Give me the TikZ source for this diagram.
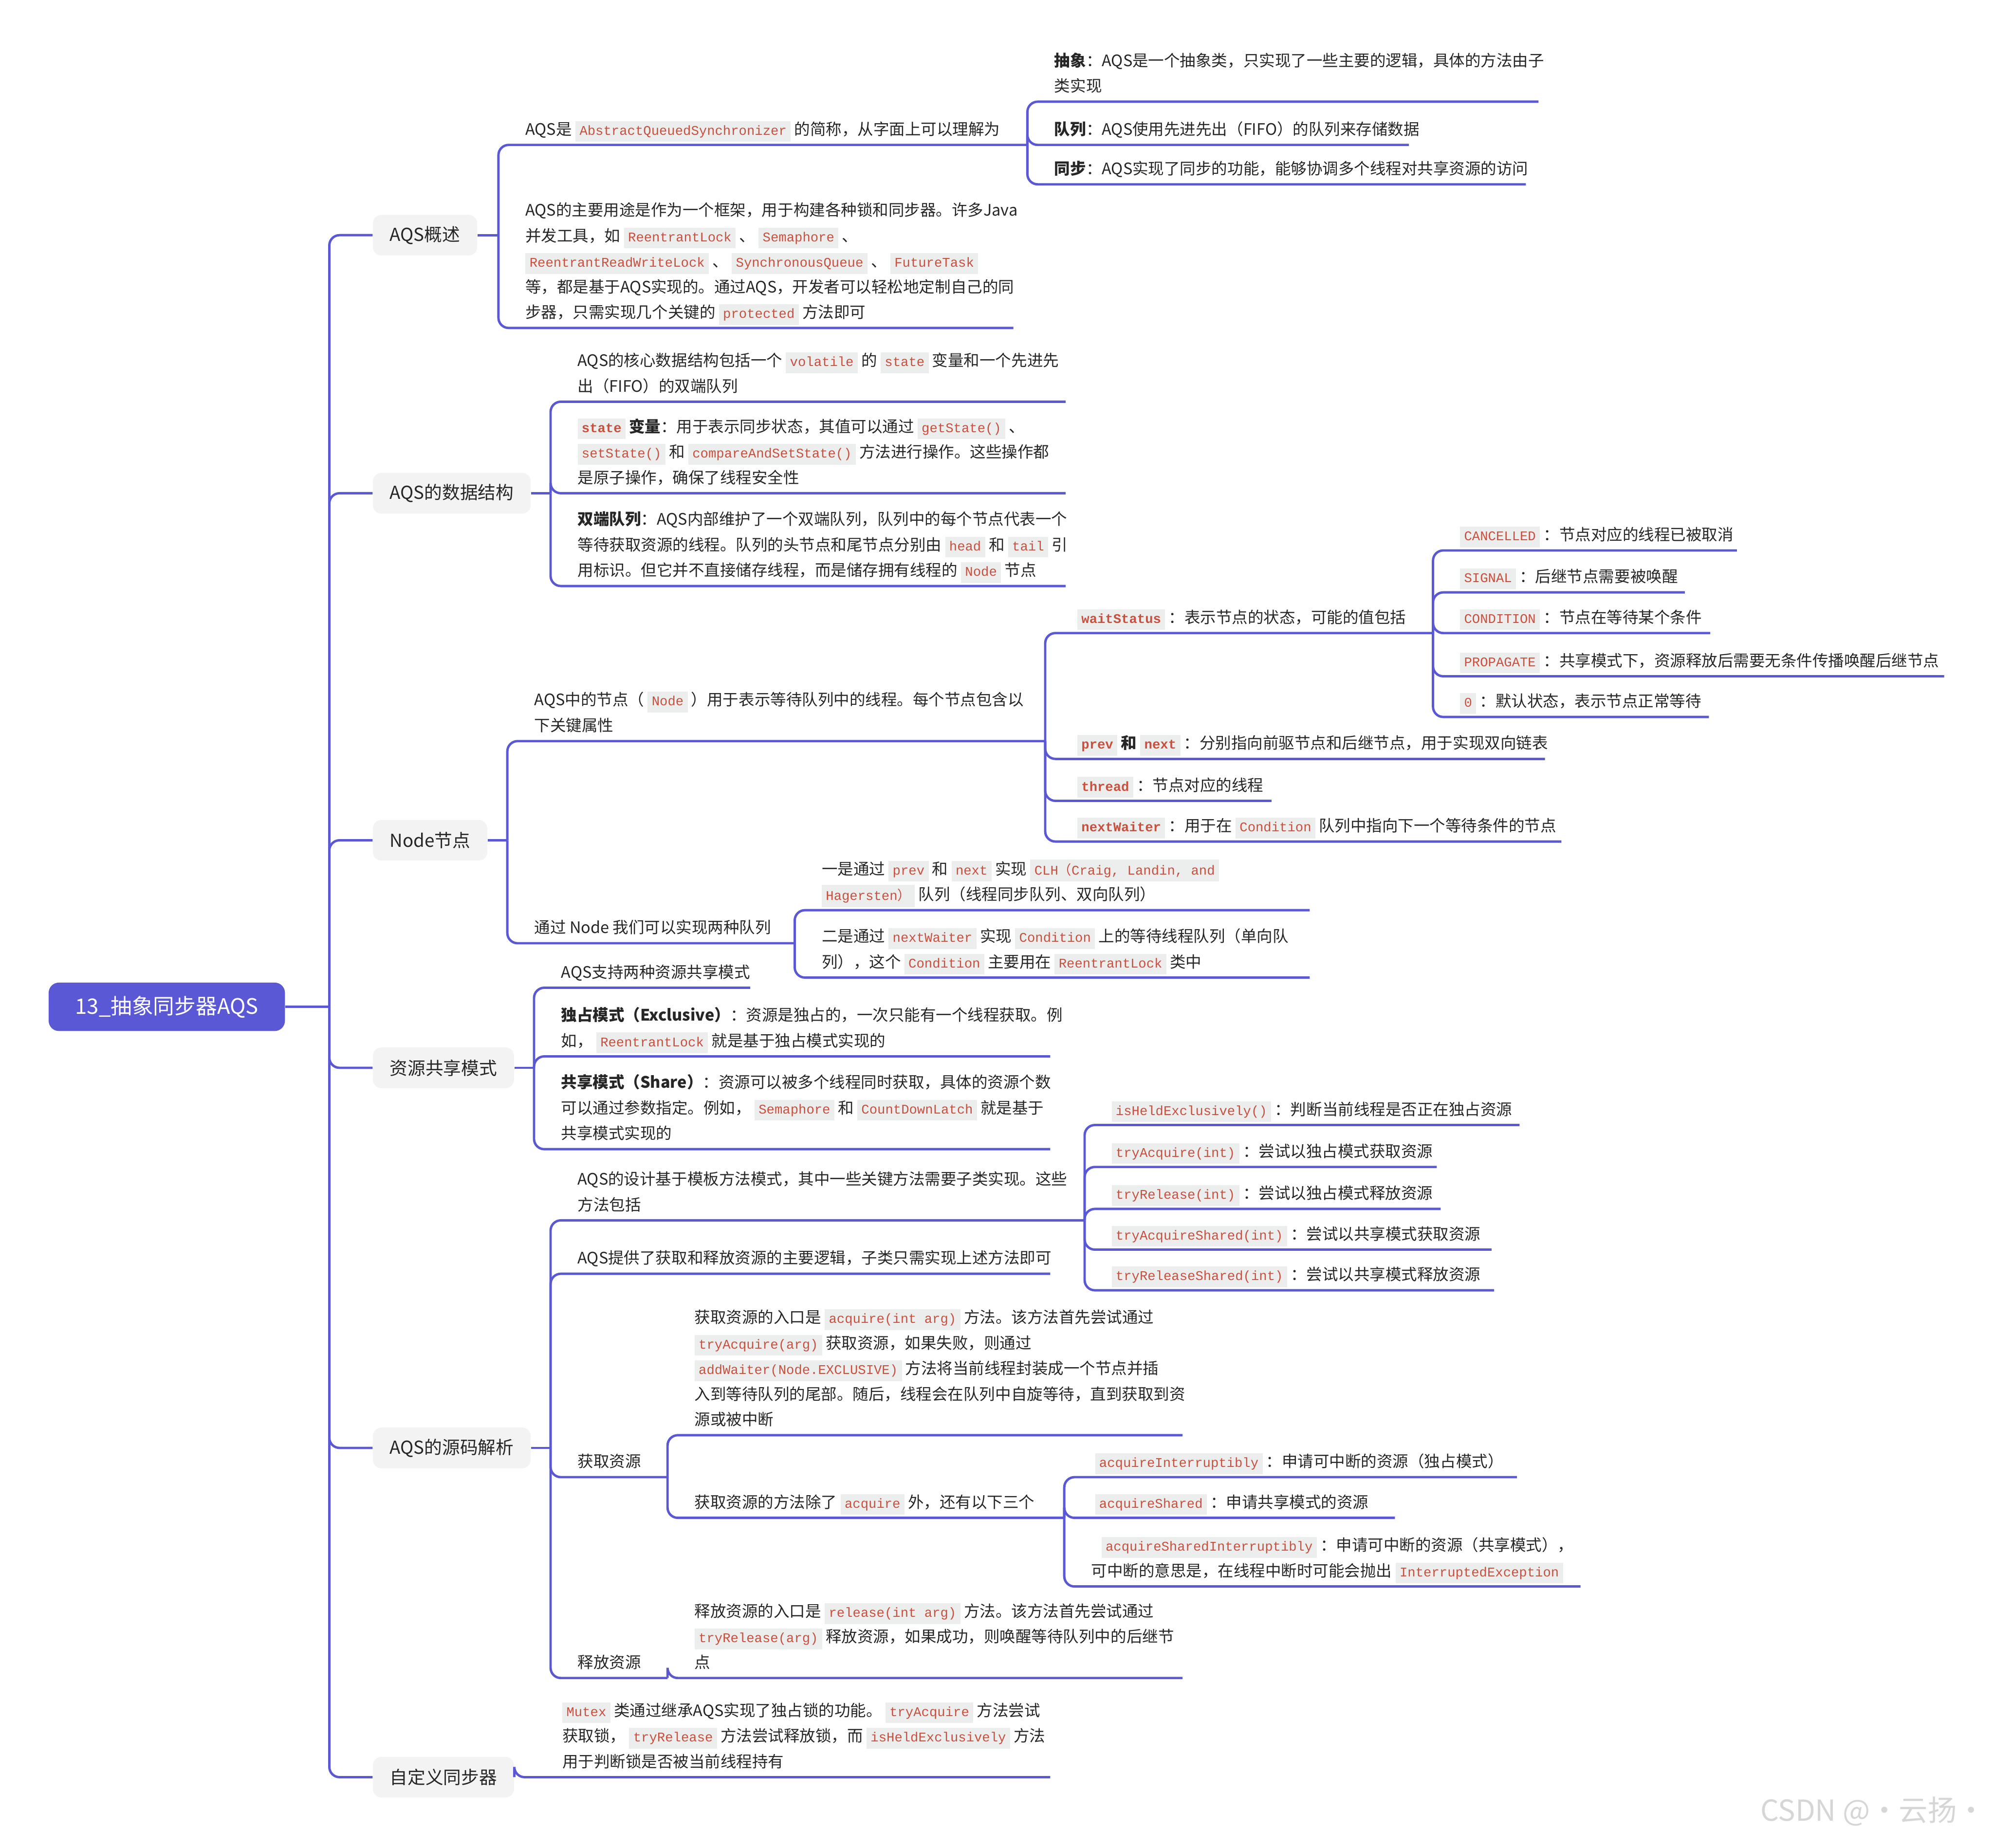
\documentclass[tikz,border=0pt]{standalone}
\usepackage{fontspec}
\setmainfont{Noto Sans CJK SC}
\setmonofont{Liberation Mono}
\usetikzlibrary{calc}
\definecolor{mmline}{RGB}{91,88,214}
\definecolor{topicbg}{RGB}{243,243,243}
\definecolor{codebg}{RGB}{236,238,238}
\definecolor{codered}{RGB}{199,80,62}
\definecolor{mmtext}{RGB}{38,38,38}
\newcommand\code[1]{{\setlength{\fboxsep}{2.4pt}\colorbox{codebg}{\rule[-1.6pt]{0pt}{7.4pt}\fontsize{7.8pt}{15pt}\ttfamily\color{codered}#1}}}
\newcommand\bcode[1]{\code{\bfseries #1}}
% leaf: name, bar point, bar x, underline y, end x, text
\newcommand\leaf[6]{%
  \node[leaf] (#1) at (#3+21,#4-1.5) {#6};
  \coordinate (#1-u) at (#5,#4);
  \draw[branch] (#2) |- (#1-u);}

\begin{document}
\begin{tikzpicture}[x=0.02626cm, y=-0.02626cm,
  branch/.style={draw=mmline, line width=1.4pt, rounded corners=6pt},
  leaf/.style={anchor=south west, inner sep=0pt, align=left, text=mmtext,
    font=\fontsize{9.3pt}{15pt}\selectfont, execute at end node=\strut},
  topic/.style={fill=topicbg, rounded corners=5pt, anchor=west, text=mmtext,
    minimum height=0.84cm, inner xsep=0.35cm, font=\fontsize{10.5pt}{12pt}\selectfont},
  rootbox/.style={fill=mmline, rounded corners=6pt, anchor=west, text=white,
    minimum width=4.88cm, minimum height=1cm, font=\fontsize{12.5pt}{14pt}\selectfont}]

\useasboundingbox (0,0) rectangle (1568.2,1453.5);

% Root and trunk
\node[rootbox] (root) at (38,792) {13\_抽象同步器AQS};
\node[topic] (t1) at (293,185) {AQS概述};
\node[topic] (t2) at (293,388) {AQS的数据结构};
\node[topic] (t3) at (293,661) {Node节点};
\node[topic] (t4) at (293,840) {资源共享模式};
\node[topic] (t5) at (293,1139) {AQS的源码解析};
\node[topic] (t6) at (293,1398) {自定义同步器};

\coordinate (trunk) at (259,792);
\draw[branch] (root.east) -- (trunk);
\foreach \t in {t1,t2,t3,t4,t5,t6}
  \draw[branch] (trunk) |- (\t.west);

% AQS概述
\coordinate (b1) at (392,185);
\draw[branch] (t1.east) -- (b1);
\leaf{n11}{b1}{392}{114}{808}{AQS是 \code{AbstractQueuedSynchronizer} 的简称，从字面上可以理解为}
\leaf{n111}{n11-u}{808}{80}{1210}{\textbf{抽象}：AQS是一个抽象类，只实现了一些主要的逻辑，具体的方法由子\\%
类实现}
\leaf{n112}{n11-u}{808}{114}{1108}{\textbf{队列}：AQS使用先进先出（FIFO）的队列来存储数据}
\leaf{n113}{n11-u}{808}{145}{1200}{\textbf{同步}：AQS实现了同步的功能，能够协调多个线程对共享资源的访问}
\leaf{n12}{b1}{392}{258}{797}{AQS的主要用途是作为一个框架，用于构建各种锁和同步器。许多Java\\%
并发工具，如 \code{ReentrantLock} 、 \code{Semaphore} 、\\%
\code{ReentrantReadWriteLock} 、 \code{SynchronousQueue} 、 \code{FutureTask}\\%
等，都是基于AQS实现的。通过AQS，开发者可以轻松地定制自己的同\\%
步器，只需实现几个关键的 \code{protected} 方法即可}

% AQS的数据结构
\coordinate (b2) at (433,388);
\draw[branch] (t2.east) -- (b2);
\leaf{n21}{b2}{433}{316}{838}{AQS的核心数据结构包括一个 \code{volatile} 的 \code{state} 变量和一个先进先\\%
出（FIFO）的双端队列}
\leaf{n22}{b2}{433}{388}{838}{\bcode{state} \textbf{变量}：用于表示同步状态，其值可以通过 \code{getState()} 、\\%
\code{setState()} 和 \code{compareAndSetState()} 方法进行操作。这些操作都\\%
是原子操作，确保了线程安全性}
\leaf{n23}{b2}{433}{461}{838}{\textbf{双端队列}：AQS内部维护了一个双端队列，队列中的每个节点代表一个\\%
等待获取资源的线程。队列的头节点和尾节点分别由 \code{head} 和 \code{tail} 引\\%
用标识。但它并不直接储存线程，而是储存拥有线程的 \code{Node} 节点}

% Node节点
\coordinate (b3) at (399,661);
\draw[branch] (t3.east) -- (b3);
\leaf{n31}{b3}{399}{583}{822}{AQS中的节点（ \code{Node} ）用于表示等待队列中的线程。每个节点包含以\\%
下关键属性}
\leaf{n311}{n31-u}{826}{498}{1127}{\bcode{waitStatus} ：表示节点的状态，可能的值包括}
\leaf{n3111}{n311-u}{1127}{433}{1366}{\code{CANCELLED} ：节点对应的线程已被取消}
\leaf{n3112}{n311-u}{1127}{466}{1325}{\code{SIGNAL} ：后继节点需要被唤醒}
\leaf{n3113}{n311-u}{1127}{498}{1345}{\code{CONDITION} ：节点在等待某个条件}
\leaf{n3114}{n311-u}{1127}{532}{1529}{\code{PROPAGATE} ：共享模式下，资源释放后需要无条件传播唤醒后继节点}
\leaf{n3115}{n311-u}{1127}{564}{1344}{\code{0} ：默认状态，表示节点正常等待}
\leaf{n312}{n31-u}{826}{597}{1215}{\bcode{prev} \textbf{和} \bcode{next} ：分别指向前驱节点和后继节点，用于实现双向链表}
\leaf{n313}{n31-u}{826}{630}{1000}{\bcode{thread} ：节点对应的线程}
\leaf{n314}{n31-u}{826}{662}{1228}{\bcode{nextWaiter} ：用于在 \code{Condition} 队列中指向下一个等待条件的节点}
\leaf{n32}{b3}{399}{742}{625}{通过 Node 我们可以实现两种队列}
\leaf{n321}{n32-u}{625}{716}{1030}{一是通过 \code{prev} 和 \code{next} 实现 \code{CLH{\rmfamily （}Craig, Landin, and}\\%
\code{Hagersten{\rmfamily ）}} 队列（线程同步队列、双向队列）}
\leaf{n322}{n32-u}{625}{769}{1030}{二是通过 \code{nextWaiter} 实现 \code{Condition} 上的等待线程队列（单向队\\%
列），这个 \code{Condition} 主要用在 \code{ReentrantLock} 类中}

% 资源共享模式
\coordinate (b4) at (420,840);
\draw[branch] (t4.east) -- (b4);
\leaf{n41}{b4}{420}{777}{590}{AQS支持两种资源共享模式}
\leaf{n42}{b4}{420}{831}{826}{\textbf{独占模式（Exclusive）}：资源是独占的，一次只能有一个线程获取。例\\%
如， \code{ReentrantLock} 就是基于独占模式实现的}
\leaf{n43}{b4}{420}{904}{826}{\textbf{共享模式（Share）}：资源可以被多个线程同时获取，具体的资源个数\\%
可以通过参数指定。例如， \code{Semaphore} 和 \code{CountDownLatch} 就是基于\\%
共享模式实现的}

% AQS的源码解析
\coordinate (b5) at (433,1139);
\draw[branch] (t5.east) -- (b5);
\leaf{n51}{b5}{433}{960}{853}{AQS的设计基于模板方法模式，其中一些关键方法需要子类实现。这些\\%
方法包括}
\leaf{n511}{n51-u}{853}{885}{1195}{\code{isHeldExclusively()} ：判断当前线程是否正在独占资源}
\leaf{n512}{n51-u}{853}{918}{1130}{\code{tryAcquire(int)} ：尝试以独占模式获取资源}
\leaf{n513}{n51-u}{853}{951}{1133}{\code{tryRelease(int)} ：尝试以独占模式释放资源}
\leaf{n514}{n51-u}{853}{983}{1173}{\code{tryAcquireShared(int)} ：尝试以共享模式获取资源}
\leaf{n515}{n51-u}{853}{1015}{1175}{\code{tryReleaseShared(int)} ：尝试以共享模式释放资源}
\leaf{n52}{b5}{433}{1002}{826}{AQS提供了获取和释放资源的主要逻辑，子类只需实现上述方法即可}
\leaf{n53}{b5}{433}{1162}{525}{获取资源}
\leaf{n531}{n53-u}{525}{1129}{930}{获取资源的入口是 \code{acquire(int arg)} 方法。该方法首先尝试通过\\%
\code{tryAcquire(arg)} 获取资源，如果失败，则通过\\%
\code{addWaiter(Node.EXCLUSIVE)} 方法将当前线程封装成一个节点并插\\%
入到等待队列的尾部。随后，线程会在队列中自旋等待，直到获取到资\\%
源或被中断}
\leaf{n532}{n53-u}{525}{1194}{837}{获取资源的方法除了 \code{acquire} 外，还有以下三个}
\leaf{n5321}{n532-u}{840}{1162}{1193}{\code{acquireInterruptibly} ：申请可中断的资源（独占模式）}
\leaf{n5322}{n532-u}{840}{1194}{1097}{\code{acquireShared} ：申请共享模式的资源}
\leaf{n5323}{n532-u}{837}{1248}{1243}{\hspace{6pt}\code{acquireSharedInterruptibly} ：申请可中断的资源（共享模式），\\%
可中断的意思是，在线程中断时可能会抛出 \code{InterruptedException}}
\leaf{n54}{b5}{433}{1320}{525}{释放资源}
\leaf{n541}{n54-u}{525}{1320}{930}{释放资源的入口是 \code{release(int arg)} 方法。该方法首先尝试通过\\%
\code{tryRelease(arg)} 释放资源，如果成功，则唤醒等待队列中的后继节\\%
点}

% 自定义同步器
\coordinate (b6) at (t6.east);
\leaf{n61}{b6}{421}{1398}{826}{\code{Mutex} 类通过继承AQS实现了独占锁的功能。 \code{tryAcquire} 方法尝试\\%
获取锁， \code{tryRelease} 方法尝试释放锁，而 \code{isHeldExclusively} 方法\\%
用于判断锁是否被当前线程持有}

% watermark
\node[anchor=east, inner sep=0pt, text=black!16, font=\fontsize{17pt}{20pt}\selectfont] (mark) at (1562,1425) {CSDN @·云扬·};

\end{tikzpicture}
\end{document}
